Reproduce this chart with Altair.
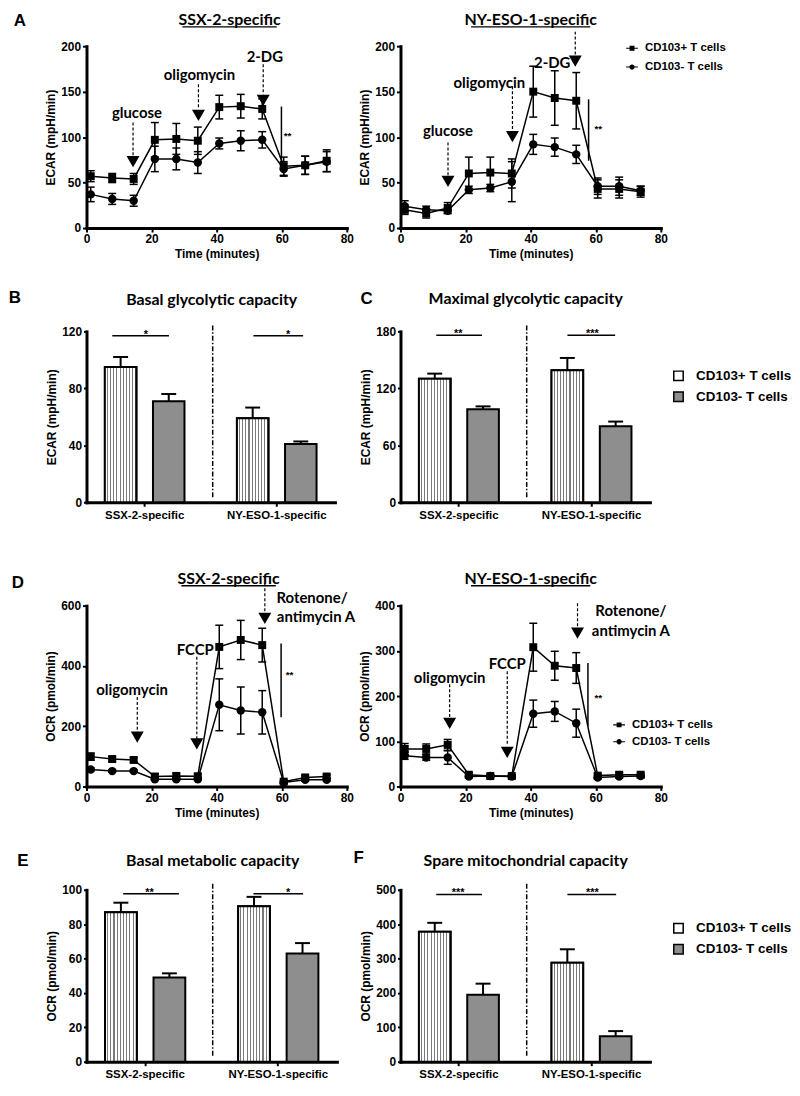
import altair as alt
import pandas as pd

# ---------------- data ----------------
TIMES = [1.3, 7.9, 14.5, 21.0, 27.6, 34.2, 40.8, 47.4, 54.0, 60.6, 67.2, 73.8]
SERIES = ["CD103+ T cells", "CD103- T cells"]
GROUPS = ["SSX-2-specific", "NY-ESO-1-specific"]

ECAR_SSX_POS = [57, 55, 54, 97, 98, 96, 133, 134, 131, 68, 69, 74]
ECAR_SSX_POS_ERR = [6, 5, 6, 19, 17, 15, 13, 13, 11, 10, 10, 12]
ECAR_SSX_NEG = [37, 32, 30, 76, 76, 72, 93, 96, 97, 65, 69, 73]
ECAR_SSX_NEG_ERR = [8, 6, 6, 14, 12, 12, 6, 11, 9, 8, 10, 11]

ECAR_NY_POS = [20, 16, 22, 60, 61, 60, 150, 143, 140, 43, 43, 40]
ECAR_NY_POS_ERR = [5, 5, 6, 18, 17, 16, 28, 30, 31, 10, 10, 6]
ECAR_NY_NEG = [24, 20, 19, 42, 44, 51, 92, 89, 81, 46, 46, 41]
ECAR_NY_NEG_ERR = [6, 4, 3, 4, 4, 22, 11, 10, 10, 9, 10, 5]

OCR_SSX_POS = [99, 91, 88, 33, 35, 34, 463, 486, 469, 16, 30, 33]
OCR_SSX_POS_ERR = [12, 8, 8, 8, 8, 8, 72, 65, 56, 5, 6, 6]
OCR_SSX_NEG = [56, 51, 51, 24, 24, 24, 271, 252, 246, 13, 22, 22]
OCR_SSX_NEG_ERR = [5, 4, 4, 4, 4, 4, 86, 78, 72, 3, 4, 4]

OCR_NY_POS = [83, 83, 92, 26, 23, 23, 308, 267, 262, 24, 26, 26]
OCR_NY_POS_ERR = [12, 11, 12, 4, 3, 3, 53, 32, 34, 4, 4, 4]
OCR_NY_NEG = [68, 64, 64, 22, 23, 22, 161, 166, 140, 20, 22, 23]
OCR_NY_NEG_ERR = [8, 6, 15, 3, 3, 3, 30, 22, 31, 3, 3, 3]

BASAL_GLYCO_POS = [95, 59]
BASAL_GLYCO_POS_ERR = [7, 7.5]
BASAL_GLYCO_NEG = [71, 41]
BASAL_GLYCO_NEG_ERR = [5, 1.7]

MAX_GLYCO_POS = [130, 139]
MAX_GLYCO_POS_ERR = [5.5, 13]
MAX_GLYCO_NEG = [98, 80]
MAX_GLYCO_NEG_ERR = [3, 5]

BASAL_METAB_POS = [87, 90.5]
BASAL_METAB_POS_ERR = [5.5, 5.4]
BASAL_METAB_NEG = [49, 63]
BASAL_METAB_NEG_ERR = [2.4, 6]

SPARE_MITO_POS = [378, 288]
SPARE_MITO_POS_ERR = [26, 39]
SPARE_MITO_NEG = [195, 74]
SPARE_MITO_NEG_ERR = [32, 15]

# injection annotations (labels, arrows) in data units
A1_LABELS = ["glucose", "oligomycin", "2-DG"]
A1_LABEL_X = [15.5, 34.7, 54.8]
A1_LABEL_Y = [127, 168, 188]
A1_ARROW_X = [14.3, 34.4, 54.3]
A1_ARROW_TOP = [116, 158, 180]
A1_ARROW_END = [80, 131, 147]
A1_HEAD_Y = [73, 124, 140.5]
A1_SIG = [59.9, 70.4, 133.6, 60.6, 101]

A2_LABELS = ["glucose", "oligomycin", "2-DG"]
A2_LABEL_X = [14.6, 27.3, 46.6]
A2_LABEL_Y = [107, 160, 182]
A2_ARROW_X = [14.6, 34.4, 53.7]
A2_ARROW_TOP = [94, 156, 216]
A2_ARROW_END = [58, 107, 189]
A2_HEAD_Y = [51.3, 100.5, 183.5]
A2_SIG = [57.8, 74, 141.6, 59.6, 108.7]

D1_LABELS = ["oligomycin", "FCCP", "Rotenone/", "antimycin A"]
D1_LABEL_X = [14, 33.4, 69.3, 70.5]
D1_LABEL_Y = [319, 452, 624, 563]
D1_ARROW_X = [15.6, 33.9, 54.8]
D1_ARROW_TOP = [297, 430, 674]
D1_ARROW_END = [180, 158, 574]
D1_HEAD_Y = [163.5, 141, 557.5]
D1_SIG = [59.8, 230, 474, 61.2, 369]

D2_LABELS = ["oligomycin", "FCCP", "Rotenone/", "antimycin A"]
D2_LABEL_X = [15.1, 32.8, 70.8, 70.8]
D2_LABEL_Y = [240, 270, 387, 343]
D2_ARROW_X = [15.1, 32.8, 54.4]
D2_ARROW_TOP = [226, 255, 405]
D2_ARROW_END = [152, 94, 350]
D2_HEAD_Y = [139.5, 75.5, 339]
D2_SIG = [57.6, 134, 273, 59.6, 196]

# ---------------- style ----------------
FONT_T = "Lato"
FONT_A = "Liberation Sans"
GRAY = "#8e8e8e"
# legend symbols: a thin bar (the connecting line) through the marker, fill only
SQ_LEG = "M-1,-0.09H1V0.09H-1ZM-0.42,-0.42H0.42V0.42H-0.42Z"
CI_LEG = "M-1,-0.09H1V0.09H-1ZM0.45,0A0.45,0.45,0,1,1,-0.45,0A0.45,0.45,0,1,1,0.45,0Z"

stops = []
NSTRIPE = 10
for i in range(NSTRIPE):
    a, b, c = i / NSTRIPE, (i + 0.66) / NSTRIPE, (i + 1) / NSTRIPE
    stops += [alt.GradientStop(color="white", offset=a), alt.GradientStop(color="white", offset=b),
              alt.GradientStop(color="#7a7a7a", offset=b), alt.GradientStop(color="#7a7a7a", offset=c)]
STRIPES = alt.LinearGradient(gradient="linear", x1=0, x2=1, y1=0, y2=0, stops=stops)


def one():
    return pd.DataFrame({"k": [0]})


def vtext(txt, x, y, size, font=FONT_T, align="center"):
    return alt.Chart(one()).mark_text(text=txt, font=font, fontSize=size, fontWeight="bold",
                                      align=align, baseline="middle", color="black").encode(
        x=alt.value(x), y=alt.value(y))


def header(title, tx, ty, letter, lx, ly, ul=None):
    layers = [vtext(title, tx, ty, 16)]
    if letter:
        layers.append(vtext(letter, lx, ly, 17, font=FONT_A))
    if ul is not None:
        uy, half = ul
        layers.append(alt.Chart(one()).mark_rule(color="black", strokeWidth=1.3).encode(
            x=alt.value(tx - half), x2=alt.value(tx + half), y=alt.value(uy)))
    return layers


def line_panel(pos, pos_err, neg, neg_err, ymax, ystep, ytitle, w, h,
               labels, lab_x, lab_y, arr_x, arr_top, arr_end, head_y, sig,
               hdr, legend_xy=None):
    rows = []
    for s, m, e in ((SERIES[0], pos, pos_err), (SERIES[1], neg, neg_err)):
        for t, v, d in zip(TIMES, m, e):
            rows.append({"time": t, "value": v, "lo": v - d, "hi": v + d, "series": s})
    df = pd.DataFrame(rows)
    xs = alt.Scale(domain=[0, 80], nice=False)
    ys = alt.Scale(domain=[0, ymax], nice=False)
    yvals = list(range(0, ymax + 1, ystep))
    xax = alt.Axis(values=[0, 20, 40, 60, 80], tickCount=5, title="Time (minutes)", tickSize=4,
                   labelPadding=2, titlePadding=4, labelFlush=False, domainCap="square")
    yax = alt.Axis(values=yvals, tickCount=len(yvals), title=ytitle, tickSize=4, labelPadding=2,
                   titlePadding=3, labelFlush=False, domainCap="square")

    def X(f):
        return alt.X(f, type="quantitative", scale=xs, axis=xax)

    def Y(f):
        return alt.Y(f, type="quantitative", scale=ys, axis=yax)

    base = alt.Chart(df)
    line = base.mark_line(color="black", strokeWidth=1.5).encode(x=X("time"), y=Y("value"), detail="series:N")
    err = base.mark_rule(color="black", strokeWidth=1.5).encode(x=X("time"), y=Y("lo"), y2=alt.Y2("hi"))
    cap1 = base.mark_tick(orient="horizontal", color="black", thickness=1.5, size=8, opacity=1).encode(
        x=X("time"), y=Y("lo"))
    cap2 = base.mark_tick(orient="horizontal", color="black", thickness=1.5, size=8, opacity=1).encode(
        x=X("time"), y=Y("hi"))
    pts_pos = base.transform_filter(alt.datum.series == SERIES[0]).mark_point(
        shape="square", filled=True, size=64, color="black", opacity=1).encode(x=X("time"), y=Y("value"))
    pts_neg = base.transform_filter(alt.datum.series == SERIES[1]).mark_point(
        shape="circle", filled=True, size=72, color="black", opacity=1).encode(x=X("time"), y=Y("value"))

    lab_df = pd.DataFrame({"text": labels, "x": lab_x, "y": lab_y})
    lab = alt.Chart(lab_df).mark_text(font=FONT_T, fontSize=15, fontWeight="bold", color="black",
                                      baseline="middle").encode(x=X("x"), y=Y("y"), text="text:N")
    arr_df = pd.DataFrame({"x": arr_x, "y1": arr_top, "y2": arr_end, "yh": head_y})
    arr = alt.Chart(arr_df).mark_rule(color="black", strokeWidth=1.2, strokeDash=[3, 2]).encode(
        x=X("x"), y=Y("y1"), y2=alt.Y2("y2"))
    heads = alt.Chart(arr_df).mark_point(shape="triangle-down", filled=True, size=170, color="black",
                                         opacity=1).encode(x=X("x"), y=Y("yh"))
    sig_df = pd.DataFrame({"x": [sig[0]], "y1": [sig[1]], "y2": [sig[2]], "sx": [sig[3]], "sy": [sig[4]]})
    sigl = alt.Chart(sig_df).mark_rule(color="black", strokeWidth=1.5).encode(
        x=X("x"), y=Y("y1"), y2=alt.Y2("y2"))
    stars = alt.Chart(sig_df).mark_text(text="**", align="left", baseline="middle", font=FONT_A,
                                        fontSize=10, fontWeight="bold", color="black").encode(
        x=X("sx"), y=Y("sy"))
    layers = [line, err, cap1, cap2, pts_pos, pts_neg, arr, heads, lab, sigl, stars]
    if legend_xy is not None:
        leg = alt.Legend(orient="none", legendX=legend_xy[0], legendY=legend_xy[1], title=None,
                         symbolSize=140, symbolFillColor="black", symbolStrokeWidth=0,
                         labelFontSize=11.5, labelOffset=7,
                         rowPadding=legend_xy[2], padding=0)
        legend_layer = base.transform_filter("false").mark_point(
            filled=True, size=140, color="black", strokeWidth=0, opacity=1).encode(
            x=X("time"), y=Y("value"),
            shape=alt.Shape("series:N", scale=alt.Scale(domain=SERIES, range=[SQ_LEG, CI_LEG]), legend=leg))
        layers.append(legend_layer)
    return alt.layer(*(layers + hdr)).properties(width=w, height=h)


def bar_panel(pos, pos_err, neg, neg_err, ymax, ystep, ytitle, w, h, sig, hdr, legend_xy=None):
    df = pd.DataFrame({
        "group": GROUPS + GROUPS,
        "series": [SERIES[0]] * 2 + [SERIES[1]] * 2,
        "value": pos + neg,
        "hi": [v + e for v, e in zip(pos + neg, pos_err + neg_err)],
    })
    xenc = alt.X("group:N", sort=GROUPS,
                 scale=alt.Scale(domain=GROUPS, paddingInner=0.397, paddingOuter=0.139),
                 axis=alt.Axis(title=None, labelAngle=0, tickSize=4, labelPadding=3, labelFontSize=11.5,
                               domainCap="square"))
    xo = alt.XOffset("series:N", scale=alt.Scale(domain=SERIES, paddingInner=0.345, paddingOuter=0))
    ys = alt.Scale(domain=[0, ymax], nice=False)
    yvals = list(range(0, ymax + 1, ystep))
    yax = alt.Axis(values=yvals, tickCount=len(yvals), title=ytitle, tickSize=3, labelPadding=2,
                   titlePadding=3, labelFlush=False, labelOverlap=False, domainCap="square")

    def Y(f):
        return alt.Y(f, type="quantitative", scale=ys, axis=yax)

    if legend_xy is not None:
        leg = alt.Legend(orient="none", legendX=legend_xy[0], legendY=legend_xy[1], title=None,
                         symbolType="square", symbolSize=90, symbolStrokeColor="black",
                         symbolStrokeWidth=1.5, labelFontSize=13.5, labelOffset=11,
                         rowPadding=legend_xy[2], padding=0)
    else:
        leg = None
    base = alt.Chart(df)
    err = base.mark_rule(color="black", strokeWidth=2).encode(x=xenc, xOffset=xo, y=Y("value"),
                                                              y2=alt.Y2("hi"))
    cap = base.mark_tick(orient="horizontal", color="black", thickness=2, size=15, opacity=1).encode(
        x=xenc, xOffset=xo, y=Y("hi"))
    bars = base.mark_bar(stroke="black", strokeWidth=2).encode(
        x=xenc, xOffset=xo, y=Y("value"),
        fill=alt.Fill("series:N", scale=alt.Scale(domain=SERIES, range=["white", GRAY]), legend=leg))
    stripes = base.transform_filter(alt.datum.series == SERIES[0]).mark_bar(
        fill=STRIPES, stroke="black", strokeWidth=2).encode(x=xenc, xOffset=xo, y=Y("value"))
    divider = alt.Chart(one()).mark_rule(color="black", strokeWidth=1.5, strokeDash=[5, 2, 1.5, 2]).encode(
        x=alt.value(127), y=alt.value(-6), y2=alt.value(h - 4))
    layers = [err, cap, bars, stripes, divider]
    for x1, x2, sy, sx, stxt in sig:
        layers.append(alt.Chart(one()).mark_rule(color="black", strokeWidth=1.5).encode(
            x=alt.value(x1), x2=alt.value(x2), y=alt.datum(sy)))
        layers.append(alt.Chart(one()).mark_text(text=stxt, font=FONT_A, fontSize=11, fontWeight="bold",
                                                 baseline="alphabetic", dy=2, color="black").encode(
            x=alt.value(sx), y=alt.datum(sy)))
    return alt.layer(*(layers + hdr)).properties(width=w, height=h)


pA1 = line_panel(ECAR_SSX_POS, ECAR_SSX_POS_ERR, ECAR_SSX_NEG, ECAR_SSX_NEG_ERR, 200, 50, "ECAR (mpH/min)",
                 262, 183, A1_LABELS, A1_LABEL_X, A1_LABEL_Y, A1_ARROW_X, A1_ARROW_TOP, A1_ARROW_END,
                 A1_HEAD_Y, A1_SIG, header("SSX-2-specific", 144, -26.5, "A", -67, -25, ul=(-19.5, 47.5)))
pA2 = line_panel(ECAR_NY_POS, ECAR_NY_POS_ERR, ECAR_NY_NEG, ECAR_NY_NEG_ERR, 200, 50, "ECAR (mpH/min)",
                 262, 183, A2_LABELS, A2_LABEL_X, A2_LABEL_Y, A2_ARROW_X, A2_ARROW_TOP, A2_ARROW_END,
                 A2_HEAD_Y, A2_SIG, header("NY-ESO-1-specific", 131, -26.5, "", 0, 0, ul=(-19.5, 60)),
                 legend_xy=(227, -4, 7))
pB = bar_panel(BASAL_GLYCO_POS, BASAL_GLYCO_POS_ERR, BASAL_GLYCO_NEG, BASAL_GLYCO_NEG_ERR, 120, 40,
               "ECAR (mpH/min)", 250, 172,
               [(26, 83, 117, 59.7, "*"), (168, 218, 117, 203, "*")],
               header("Basal glycolytic capacity", 126, -32, "B", -72, -34))
pC = bar_panel(MAX_GLYCO_POS, MAX_GLYCO_POS_ERR, MAX_GLYCO_NEG, MAX_GLYCO_NEG_ERR, 180, 60,
               "ECAR (mpH/min)", 251, 172,
               [(36, 82, 176, 58, "**"), (168, 216, 176, 193, "***")],
               header("Maximal glycolytic capacity", 126, -33, "C", -34, -33),
               legend_xy=(273, 38, 5))
pD1 = line_panel(OCR_SSX_POS, OCR_SSX_POS_ERR, OCR_SSX_NEG, OCR_SSX_NEG_ERR, 600, 200, "OCR (pmol/min)",
                 262, 182, D1_LABELS, D1_LABEL_X, D1_LABEL_Y, D1_ARROW_X, D1_ARROW_TOP, D1_ARROW_END,
                 D1_HEAD_Y, D1_SIG, header("SSX-2-specific", 143, -27, "D", -69, -23, ul=(-20, 47.5)))
pD2 = line_panel(OCR_NY_POS, OCR_NY_POS_ERR, OCR_NY_NEG, OCR_NY_NEG_ERR, 400, 100, "OCR (pmol/min)",
                 262, 182, D2_LABELS, D2_LABEL_X, D2_LABEL_Y, D2_ARROW_X, D2_ARROW_TOP, D2_ARROW_END,
                 D2_HEAD_Y, D2_SIG, header("NY-ESO-1-specific", 131, -27, "", 0, 0, ul=(-20, 60)),
                 legend_xy=(214, 114, 5))
pE = bar_panel(BASAL_METAB_POS, BASAL_METAB_POS_ERR, BASAL_METAB_NEG, BASAL_METAB_NEG_ERR, 100, 20,
               "OCR (pmol/min)", 252, 173,
               [(37, 93, 97.7, 63.5, "**"), (168, 218, 97.7, 203, "*")],
               header("Basal metabolic capacity", 127, -29, "E", -64, -29))
pF = bar_panel(SPARE_MITO_POS, SPARE_MITO_POS_ERR, SPARE_MITO_NEG, SPARE_MITO_NEG_ERR, 500, 100,
               "OCR (pmol/min)", 251, 173,
               [(36, 82, 486.5, 58, "***"), (168, 217, 486.5, 193, "***")],
               header("Spare mitochondrial capacity", 126, -29, "F", -42, -32),
               legend_xy=(273, 32, 5))

chart = alt.concat(pA1, pA2, pB, pC, pD1, pD2, pE, pF, columns=2,
                   spacing={"row": 104, "column": 54}, bounds="flush", align="each")
chart = chart.resolve_scale(shape="independent", fill="independent", xOffset="independent") \
    .resolve_legend(shape="independent", fill="independent") \
    .properties(padding=0) \
    .configure_view(stroke=None) \
    .configure_axis(domainColor="black", domainWidth=3, tickColor="black", tickWidth=2,
                    labelFont=FONT_A, labelFontWeight="bold", labelFontSize=12, labelColor="black",
                    titleFont=FONT_A, titleFontWeight="bold", titleFontSize=12, titleColor="black",
                    grid=False, labelOverlap=False) \
    .configure_legend(labelFont=FONT_A, labelFontWeight="bold", labelColor="black")

chart.save("out.html", embed_options={"renderer": "svg", "actions": False})
